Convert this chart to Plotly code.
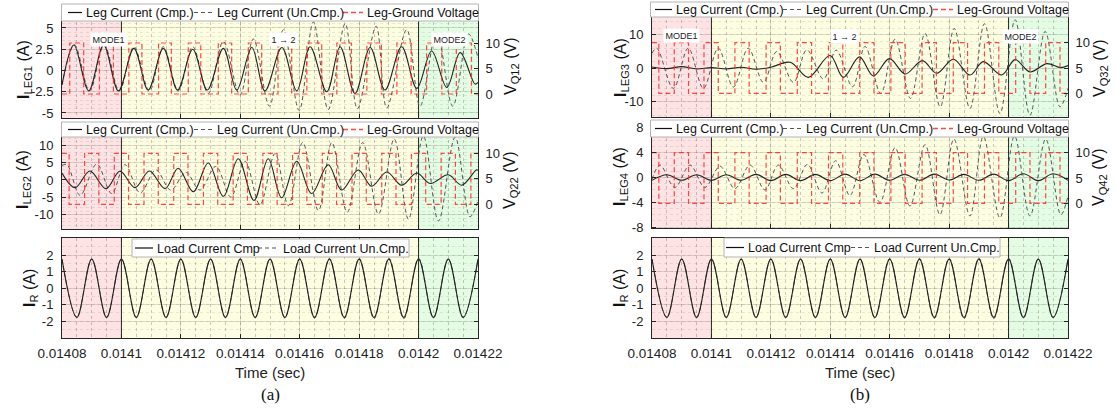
import plotly.graph_objects as go

W, H = 1116, 410
T0 = 0.01408          # start of the displayed window (s)
T_END_US = 140.0      # window length (microseconds)

# ---------------- time axis ----------------
x_tick_vals = [0.01408, 0.01410, 0.01412, 0.01414, 0.01416, 0.01418, 0.01420, 0.01422]
x_tick_text = ["0.01408", "0.0141", "0.01412", "0.01414", "0.01416", "0.01418", "0.0142", "0.01422"]

mode_edges = [0.01408, 0.01410, 0.01420, 0.01422]
mode_fill = ["#fde3e3", "#fdfde2", "#e3fce3"]
mode_names = ["MODE1", "1 \u2192 2", "MODE2"]

# ---------------- y ticks ----------------
ileg1_ticks = [-5, -2.5, 0, 2.5, 5]
ileg1_text = ["-5", "-2.5", "0", "2.5", "5"]
ileg2_ticks = [-10, -5, 0, 5, 10]
ileg2_text = ["-10", "-5", "0", "5", "10"]
ileg3_ticks = [-10, 0, 10]
ileg3_text = ["-10", "0", "10"]
ileg4_ticks = [-8, -4, 0, 4, 8]
ileg4_text = ["-8", "-4", "0", "4", "8"]
ir_ticks = [-2, -1, 0, 1, 2]
ir_text = ["-2", "-1", "0", "1", "2"]
vq_ticks = [0, 5, 10]
vq_text = ["0", "5", "10"]

# ---------------- waveforms (time in us after T0, current in A) ----------------
leg1_cmp_us = [0, 4.0, 9.0, 14.0, 19.0, 24.2, 29.0, 34.1, 38.9, 44.0, 48.9, 54.3, 58.8, 63.9, 68.3,
               74.0, 79.0, 83.5, 89.1, 93.6, 98.6, 103.7, 108.7, 114.3, 119.4, 124.4, 129.5, 134.0, 139.0, 140]
leg1_cmp_a = [-1.7, 3.0, -2.4, 3.0, -2.4, 2.6, -2.3, 2.6, -2.3, 2.5, -2.3, 2.6, -2.3, 2.7, -2.4,
              2.7, -2.4, 2.8, -2.5, 2.8, -2.7, 2.7, -2.3, 2.8, -2.1, 2.3, -2.0, 2.1, -1.6, -1.4]
leg1_unc_us = [0, 4.2, 9.3, 14.2, 19.3, 24.2, 29.4, 34.1, 39.1, 44.0, 49.2, 54.3, 59.9, 64.4, 69.8,
               74.5, 79.8, 84.6, 89.6, 95.3, 99.4, 105.7, 109.3, 116.0, 120.5, 126.1, 131.5, 136.8, 140]
leg1_unc_a = [-1.7, 3.0, -2.4, 3.0, -2.4, 2.8, -2.4, 2.8, -2.4, 2.8, -2.7, 3.4, -2.9, 3.7, -4.2,
              4.8, -4.7, 5.7, -4.6, 5.5, -4.5, 5.2, -4.4, 4.8, -4.2, 4.4, -4.2, 4.3, 1.5]

leg2_cmp_us = [0, 4.4, 9.4, 14.8, 19.5, 24.6, 29.4, 34.7, 39.1, 44.2, 49.2, 54.3, 59.3, 64.6, 69.4,
               73.9, 79.0, 84.0, 89.6, 94.1, 99.7, 104.2, 109.3, 114.3, 119.4, 123.9, 130.0, 134.5, 139.4, 140]
leg2_cmp_a = [2.0, -2.2, 2.6, -2.5, 2.5, -2.2, 2.6, -2.5, 3.4, -3.4, 4.9, -4.7, 6.1, -5.9, 6.1,
              -5.1, 5.4, -3.9, 4.4, -2.9, 2.9, -1.8, 2.3, -1.5, 2.0, -1.0, 1.5, -1.5, 2.9, 2.8]
leg2_unc_us = [0, 1.7, 6.1, 11.7, 16.7, 21.2, 26.3, 31.6, 36.6, 41.7, 46.4, 51.8, 56.8, 61.6, 66.6,
               71.7, 76.2, 81.0, 86.3, 90.8, 96.0, 101.2, 106.5, 111.8, 116.6, 121.6, 126.7, 132.3, 137.3, 140]
leg2_unc_a = [4.2, 4.4, -4.4, 4.6, -3.9, 4.4, -3.7, 2.9, -2.9, 2.2, -2.9, 3.9, -4.9, 5.4, -7.1,
              7.6, -7.4, 10.8, -8.8, 10.8, -9.3, 10.8, -9.8, 11.8, -11.3, 12.7, -11.8, 12.3, -10.6, -6.0]

leg3_cmp_us = [0, 5, 10, 15, 20, 25, 30, 35, 40, 46.5, 52.6, 59.9, 64.4, 69.8,
               74.5, 79.9, 85.2, 91.0, 95.8, 101.4, 107.0, 111.5, 117.7, 122.2, 127.2, 132.9, 137.5, 140]
leg3_cmp_a = [0.4, -0.1, 0.5, -0.2, 0.2, -0.2, 0.3, -0.3, 0.3, 1.8, -2.7, 3.8, -2.7, 3.4,
              -2.3, 2.9, -1.7, 2.3, -1.5, 2.7, -2.0, 2.0, -2.0, 2.6, -1.1, 1.4, 0.2, 0.8]
leg3_unc_us = [0, 1.6, 7.2, 12.2, 17.3, 22.3, 27.4, 32.4, 37.5, 42.0, 47.6, 52.1, 57.7, 62.0, 67.5,
               71.7, 77.0, 81.8, 87.0, 91.9, 97.0, 101.7, 107.0, 111.9, 117.1, 122.2, 127.2, 132.3, 137.3, 140]
leg3_unc_a = [4.5, 6.0, -6.0, 6.0, -6.0, 6.0, -5.6, 6.0, -4.2, 5.0, -4.2, 5.5, -3.2, 5.4, -5.5,
              6.5, -7.5, 8.7, -9.0, 10.4, -11.5, 11.9, -12.0, 13.3, -13.5, 14.5, -14.0, 11.0, -11.5, -6.0]

leg4_cmp_us = [0, 5, 10, 15, 20, 25, 30, 35, 40, 45, 50, 55, 60, 65, 70,
               75, 80, 85, 90, 95, 100, 105, 110, 115, 120, 125, 130, 135, 140]
leg4_cmp_a = [-0.45, 0.45, -0.45, 0.45, -0.45, 0.45, -0.45, 0.5, -0.5, 0.5, -0.5, 0.5, -0.5, 0.55, -0.5,
              0.55, -0.45, 0.5, -0.45, 0.55, -0.4, 0.5, -0.45, 0.55, -0.5, 0.6, -0.5, 0.6, -0.45]
leg4_unc_us = [0, 2.7, 7.7, 12.8, 17.8, 22.9, 27.9, 33.0, 38.0, 42.5, 47.6, 52.3, 57.2, 61.8, 66.6,
               71.3, 76.7, 81.8, 86.8, 91.9, 96.9, 101.6, 107.0, 111.5, 117.1, 122.0, 127.2, 132.5, 137.6, 140]
leg4_unc_a = [-0.3, 2.0, -1.6, 2.0, -1.6, 1.8, -1.8, 2.0, -2.0, 2.0, -1.8, 2.1, -2.5, 2.7, -2.9,
              3.7, -4.0, 4.8, -4.6, 5.3, -6.0, 6.2, -6.2, 6.6, -6.5, 6.7, -6.2, 6.2, -6.0, -3.0]

load_us = [0, 5, 10, 15, 20, 25, 30, 35, 40, 45, 50, 55, 60, 65, 70,
           75, 80, 85, 90, 95, 100, 105, 110, 115, 120, 125, 130, 135, 140]
load_cmp_a = [1.75, -1.78, 1.75, -1.78, 1.75, -1.78, 1.75, -1.78, 1.75, -1.78, 1.75, -1.78, 1.75, -1.78, 1.75,
              -1.78, 1.75, -1.78, 1.75, -1.78, 1.75, -1.78, 1.75, -1.78, 1.75, -1.78, 1.75, -1.78, 1.75]
load_unc_a = [1.75, -1.78, 1.75, -1.78, 1.75, -1.78, 1.75, -1.78, 1.75, -1.78, 1.75, -1.78, 1.76, -1.79, 1.77,
              -1.80, 1.78, -1.82, 1.79, -1.84, 1.80, -1.86, 1.81, -1.86, 1.80, -1.80, 1.76, -1.78, 1.75]

# leg-to-ground switching instants (us after T0), levels in V
V_LOW, V_HIGH = 0.0, 10.0
q12_rise_us = [2.6, 12.6, 22.5, 32.5, 42.5, 52.6, 62.7, 72.7, 82.4, 92.5, 102.6, 112.7, 122.7, 132.7]
q12_fall_us = [7.3, 17.3, 26.9, 36.8, 46.7, 57.1, 67.2, 77.3, 87.4, 97.4, 107.5, 117.5, 127.8, 137.8]
q22_rise_us = [7.6, 17.6, 27.6, 37.6, 47.6, 57.6, 67.6, 77.6, 87.6, 97.6, 107.6, 117.6, 127.6, 137.6]
q22_fall_us = [2.4, 12.4, 22.4, 32.4, 42.4, 52.4, 62.4, 72.4, 82.4, 92.4, 102.4, 112.4, 122.4, 132.4]
q32_rise_us = [7.5, 17.5, 27.9, 38.4, 48.9, 59.4, 69.9, 80.4, 90.9, 101.4, 111.9, 122.4, 132.5]
q32_fall_us = [2.3, 12.3, 22.3, 32.7, 43.2, 53.7, 64.2, 74.7, 85.2, 95.7, 106.2, 116.7, 127.2, 137.3]
q42_rise_us = [7.5, 17.5, 27.9, 38.4, 48.9, 59.4, 69.9, 80.4, 90.9, 101.4, 111.9, 122.4, 132.5]
q42_fall_us = [2.3, 12.3, 22.3, 32.7, 43.2, 53.7, 64.2, 74.7, 85.2, 95.7, 106.2, 116.7, 127.2, 137.3]

# ---------------- styling ----------------
FONT = "Arial, Liberation Sans, sans-serif"
AX = "#262626"
CMP_LINE = dict(color="#222222", width=1.1, shape="spline", smoothing=1.0)
UNC_LINE = dict(color="#555555", width=1.0, dash="4px,3px", shape="spline", smoothing=1.0)
VQ_LINE = dict(color="rgba(255,40,40,0.85)", width=1.2, dash="5px,3px", shape="hv")
GRID = "rgba(0,0,0,0.12)"
MINOR_GRID_X = "rgba(0,0,0,0.2)"
MINOR_GRID_Y = "rgba(0,0,0,0.08)"


def sec(us):
    return [T0 + u * 1e-6 for u in us]


def square_wave(rises, falls, start_level):
    events = sorted([(t, V_HIGH) for t in rises] + [(t, V_LOW) for t in falls])
    xs = [0.0] + [t for t, _ in events] + [T_END_US]
    ys = [start_level] + [v for _, v in events] + [events[-1][1]]
    return xs, ys


def px(x):
    return x / W


def py(y):
    return 1 - y / H


# panel geometry in pixels: (left, right), (top incl. legend strip, bottom)
panels = [
    dict(xp=(62, 478), yp=(4, 118), lr=(-5.59, 7.82), ticks=(ileg1_ticks, ileg1_text), minor=0.5,
         rr=(-4.71, 17.65), cmp=(leg1_cmp_us, leg1_cmp_a), unc=(leg1_unc_us, leg1_unc_a),
         vq=(q12_rise_us, q12_fall_us, V_LOW), xlabels=False),
    dict(xp=(62, 478), yp=(122, 229), lr=(-14.12, 16.71), ticks=(ileg2_ticks, ileg2_text), minor=1,
         rr=(-4.84, 16.14), cmp=(leg2_cmp_us, leg2_cmp_a), unc=(leg2_unc_us, leg2_unc_a),
         vq=(q22_rise_us, q22_fall_us, V_HIGH), xlabels=False),
    dict(xp=(62, 478), yp=(238, 338), lr=(-3.03, 3.03), ticks=(ir_ticks, ir_text), minor=0.5,
         rr=None, cmp=(load_us, load_cmp_a), unc=(load_us, load_unc_a), vq=None, xlabels=True),
    dict(xp=(652, 1068), yp=(2, 117), lr=(-14.54, 19.79), ticks=(ileg3_ticks, ileg3_text), minor=2,
         rr=(-4.68, 18.04), cmp=(leg3_cmp_us, leg3_cmp_a), unc=(leg3_unc_us, leg3_unc_a),
         vq=(q32_rise_us, q32_fall_us, V_HIGH), xlabels=False),
    dict(xp=(652, 1068), yp=(120, 228.3), lr=(-8.19, 9.27), ticks=(ileg4_ticks, ileg4_text), minor=1,
         rr=(-4.94, 16.46), cmp=(leg4_cmp_us, leg4_cmp_a), unc=(leg4_unc_us, leg4_unc_a),
         vq=(q42_rise_us, q42_fall_us, V_HIGH), xlabels=False),
    dict(xp=(652, 1068), yp=(238, 338), lr=(-3.03, 3.03), ticks=(ir_ticks, ir_text), minor=0.5,
         rr=None, cmp=(load_us, load_cmp_a), unc=(load_us, load_unc_a), vq=None, xlabels=True),
]

fig = go.Figure()
layout = {}
shapes = []
annotations = []
right_idx = 7

for i, p in enumerate(panels, start=1):
    sfx = "" if i == 1 else str(i)
    xname, yname = "x" + sfx, "y" + sfx
    xdom = [px(p["xp"][0]), px(p["xp"][1])]
    ydom = [py(p["yp"][1]), py(p["yp"][0])]
    has_right = p["rr"] is not None

    layout["xaxis" + sfx] = dict(
        domain=xdom, anchor=yname, range=[mode_edges[0], mode_edges[-1]], automargin=False,
        tickmode="array", tickvals=x_tick_vals, ticktext=x_tick_text,
        showticklabels=p["xlabels"], ticks="inside", ticklen=4, tickcolor=AX,
        showline=True, linecolor=AX, linewidth=1, mirror="ticks" if not has_right else False,
        showgrid=True, gridcolor=GRID, zeroline=False, ticklabelstandoff=3,
        tickfont=dict(family=FONT, size=13.5, color="#222"),
        minor=dict(tickmode="linear", tick0=T0, dtick=5e-6, showgrid=True,
                   griddash="dot", gridcolor=MINOR_GRID_X, ticks=""),
    )
    layout["yaxis" + sfx] = dict(
        domain=ydom, anchor=xname, range=list(p["lr"]), automargin=False,
        tickmode="array", tickvals=p["ticks"][0], ticktext=p["ticks"][1],
        ticks="inside", ticklen=4, tickcolor=AX, showline=True, linecolor=AX, linewidth=1,
        mirror=False if has_right else "ticks", showgrid=True, gridcolor=GRID, zeroline=False,
        ticklabelstandoff=5, tickfont=dict(family=FONT, size=13, color="#222"),
        minor=dict(tickmode="linear", tick0=0, dtick=p["minor"], showgrid=True,
                   griddash="dot", gridcolor=MINOR_GRID_Y, ticks=""),
    )

    # operating-mode shading, then the mode boundary lines
    for j in range(3):
        shapes.append(dict(type="rect", xref=xname, yref=yname + " domain",
                           x0=mode_edges[j], x1=mode_edges[j + 1], y0=0, y1=1,
                           fillcolor=mode_fill[j], line=dict(width=0), layer="below"))
    for xb in mode_edges[1:3]:
        shapes.append(dict(type="line", xref=xname, yref=yname + " domain",
                           x0=xb, x1=xb, y0=0, y1=1, line=dict(color="#333", width=1),
                           layer="below"))

    cu, ca = p["cmp"]
    uu, ua = p["unc"]
    fig.add_trace(go.Scatter(x=sec(uu), y=ua, mode="lines", line=UNC_LINE,
                             xaxis=xname, yaxis=yname, showlegend=False, hoverinfo="skip"))
    fig.add_trace(go.Scatter(x=sec(cu), y=ca, mode="lines", line=CMP_LINE,
                             xaxis=xname, yaxis=yname, showlegend=False, hoverinfo="skip"))

    if has_right:
        rname = "y" + str(right_idx)
        layout["yaxis" + str(right_idx)] = dict(
            overlaying=yname, side="right", anchor=xname, range=list(p["rr"]), automargin=False,
            tickmode="array", tickvals=vq_ticks, ticktext=vq_text,
            ticks="inside", ticklen=4, tickcolor=AX, showline=True, linecolor=AX, linewidth=1,
            showgrid=False, zeroline=False, ticklabelstandoff=4,
            tickfont=dict(family=FONT, size=13, color="#222"),
        )
        rises, falls, lvl0 = p["vq"]
        sx, sy = square_wave(rises, falls, lvl0)
        fig.add_trace(go.Scatter(x=sec(sx), y=sy, mode="lines", line=VQ_LINE,
                                 xaxis=xname, yaxis=rname, showlegend=False, hoverinfo="skip"))
        right_idx += 1


# ---------------- legend boxes (drawn over the top strip of each panel) ----------------
LEG_STYLE = {
    "cmp": dict(color="#111", width=1.2),
    "unc": dict(color="#555", width=1.2, dash="4px,3px"),
    "vq": dict(color="rgba(255,40,40,0.85)", width=1.3, dash="5px,3px"),
}


def legend_box(x0, x1, y0, y1, items):
    shapes.append(dict(type="rect", xref="paper", yref="paper", x0=px(x0), x1=px(x1),
                       y0=py(y1), y1=py(y0), fillcolor="white",
                       line=dict(color="#b4b4b4", width=1), layer="above"))
    ym = (y0 + y1) / 2
    for lx0, lx1, tx, style, label in items:
        shapes.append(dict(type="line", xref="paper", yref="paper", x0=px(lx0), x1=px(lx1),
                           y0=py(ym), y1=py(ym), line=LEG_STYLE[style], layer="above"))
        annotations.append(dict(text=label, x=px(tx), y=py(ym + 0.5), xref="paper", yref="paper",
                                xanchor="left", yanchor="middle", showarrow=False,
                                font=dict(family=FONT, size=12.5, color="#111")))


leg_left = [(68, 82, 84, "cmp", "Leg Current (Cmp.)"),
            (194, 213, 215, "unc", "Leg Current (Un.Cmp.)"),
            (343, 363, 364.5, "vq", "Leg-Ground Voltage")]
leg_right = [(655, 672, 673.5, "cmp", "Leg Current (Cmp.)"),
             (783, 803, 804, "unc", "Leg Current (Un.Cmp.)"),
             (933, 953, 955, "vq", "Leg-Ground Voltage")]
legend_box(61.5, 478.5, 4, 21, leg_left)
legend_box(61.5, 478.5, 122, 137, leg_left)
legend_box(650.5, 1068.5, 2, 17, leg_right)
legend_box(650.5, 1068.5, 120, 137, leg_right)
legend_box(132, 409, 239, 257, [(135, 153, 155, "cmp", "Load Current Cmp"),
                                (258, 279, 281, "unc", "Load Current Un.Cmp.")])
legend_box(724, 1000, 238, 257, [(726, 744, 746, "cmp", "Load Current Cmp"),
                                 (851, 870, 872, "unc", "Load Current Un.Cmp.")])

# ---------------- mode tags ----------------
for (xl, yl), name in zip([(90, 32), (269, 32), (449, 32)], mode_names):
    annotations.append(dict(text=name, x=px(xl), y=py(yl), xref="paper", yref="paper",
                            showarrow=False, bgcolor="white", borderpad=1.5,
                            font=dict(family=FONT, size=9, color="#222")))
for (xl, yl), name in zip([(681, 28), (859, 29), (1039, 29)], mode_names):
    annotations.append(dict(text=name, x=px(xl), y=py(yl), xref="paper", yref="paper",
                            showarrow=False, bgcolor="white", borderpad=1.5,
                            font=dict(family=FONT, size=9, color="#222")))

# ---------------- axis titles ----------------
y_titles = [
    ("<b>I</b><sub>LEG1</sub> (A)", 24, 70), ("V<sub>Q12</sub> (V)", 511, 66),
    ("<b>I</b><sub>LEG2</sub> (A)", 24, 180), ("V<sub>Q22</sub> (V)", 511, 180),
    ("<b>I</b><sub>R</sub> (A)", 30, 288),
    ("<b>I</b><sub>LEG3</sub> (A)", 621, 68), ("V<sub>Q32</sub> (V)", 1100, 68),
    ("<b>I</b><sub>LEG4</sub> (A)", 621, 177), ("V<sub>Q42</sub> (V)", 1100, 177),
    ("<b>I</b><sub>R</sub> (A)", 620, 288),
]
for text, xt, yt in y_titles:
    annotations.append(dict(text=text, x=px(xt), y=py(yt), xref="paper", yref="paper",
                            textangle=-90, showarrow=False, xanchor="center", yanchor="middle",
                            font=dict(family=FONT, size=16, color="#111")))

for xc, tag in [(270, "(a)"), (860, "(b)")]:
    annotations.append(dict(text="Time (sec)", x=px(xc), y=py(372), xref="paper", yref="paper",
                            xanchor="center", yanchor="middle", showarrow=False,
                            font=dict(family=FONT, size=15, color="#222")))
    annotations.append(dict(text=tag, x=px(xc), y=py(394), xref="paper", yref="paper",
                            xanchor="center", yanchor="middle", showarrow=False,
                            font=dict(family="Times New Roman, Liberation Serif, serif",
                                      size=17, color="#111")))

layout.update(dict(width=W, height=H, margin=dict(l=0, r=0, t=0, b=0, autoexpand=False),
                   paper_bgcolor="white", plot_bgcolor="white",
                   shapes=shapes, annotations=annotations, showlegend=False))
fig.update_layout(**layout)
fig.write_html("out.html")
